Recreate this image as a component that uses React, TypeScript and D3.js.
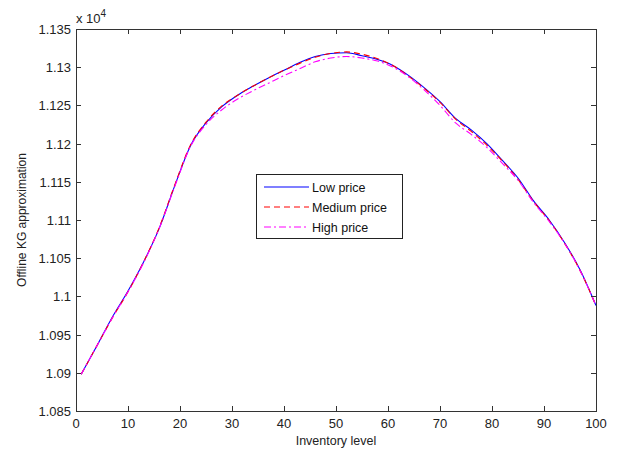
import React from "react";
import * as d3 from "d3";

// Inventory levels at which the approximation was sampled
const inventory = [1, 4, 7, 10, 13, 16, 19, 22, 25, 28, 31, 34, 37, 40, 43, 46, 49, 52, 55, 58, 61, 64, 67, 70, 73, 76, 79, 82, 85, 88, 91, 94, 97, 100];

// Offline KG approximation values (raw units, axis shows ×10^4)
const lowPrice = [10898, 10935, 10973, 11007, 11045, 11089, 11145, 11197, 11227, 11248, 11263, 11275, 11286, 11296, 11306, 11314, 11318, 11319, 11315, 11310, 11302, 11289, 11273, 11255, 11233, 11218, 11200, 11178, 11155, 11125, 11100, 11070, 11034, 10988];
const mediumPrice = [10898, 10935, 10972, 11006, 11045, 11090, 11146, 11198, 11228, 11249, 11263, 11275, 11286, 11296, 11305, 11313, 11318, 11320, 11317, 11311, 11302, 11288, 11272, 11254, 11232, 11216, 11198, 11177, 11153, 11124, 11099, 11069, 11033, 10988];
const highPrice = [10898, 10935, 10972, 11006, 11044, 11089, 11144, 11196, 11225, 11244, 11258, 11269, 11279, 11289, 11298, 11307, 11312, 11314, 11312, 11308, 11300, 11287, 11270, 11250, 11227, 11212, 11195, 11174, 11152, 11123, 11098, 11069, 11033, 10988];

const seriesNames = ["Low price", "Medium price", "High price"];
const xTicks = [0, 10, 20, 30, 40, 50, 60, 70, 80, 90, 100];
const yTicks = [10850, 10900, 10950, 11000, 11050, 11100, 11150, 11200, 11250, 11300, 11350];

const W = 619;
const H = 454;
const margin = { left: 76, right: 23, top: 29, bottom: 43 };
const FONT = "'Liberation Sans', Arial, sans-serif";

export default function App() {
  const x = d3.scaleLinear().domain([0, 100]).range([margin.left, W - margin.right]);
  const y = d3.scaleLinear().domain([10850, 11350]).range([H - margin.bottom, margin.top]);

  const series = [
    { name: seriesNames[0], values: lowPrice, color: "#0000ff", dash: undefined as string | undefined },
    { name: seriesNames[1], values: mediumPrice, color: "#ff0000", dash: "6,4" },
    { name: seriesNames[2], values: highPrice, color: "#ff00ff", dash: "7,3,2,3" },
  ];

  const line = d3
    .line<number>()
    .x((_, i) => x(inventory[i]))
    .y((d) => y(d))
    .curve(d3.curveMonotoneX);

  const x0 = x(0);
  const x1 = x(100);
  const y0 = y(10850);
  const y1 = y(11350);
  const tickLen = 5;
  const axisColor = "#333";
  const fmt = (v: number) => d3.format(".4~f")(v / 1e4);

  const legend = { x: 256.5, y: 174.5, w: 146, h: 64 };
  const rowY = [187, 207, 227];

  return (
    <svg
      width={W}
      height={H}
      style={{ position: "absolute", left: 0, top: 0, background: "#fff" }}
      fontFamily={FONT}
    >
      <rect x={0} y={0} width={W} height={H} fill="#fff" />

      {/* data lines */}
      <g fill="none" strokeWidth={1.1}>
        {series.map((s) => (
          <path key={s.name} d={line(s.values) || ""} stroke={s.color} strokeDasharray={s.dash} />
        ))}
      </g>

      {/* axes box */}
      <rect x={x0 + 0.5} y={y1 + 0.5} width={x1 - x0} height={y0 - y1} fill="none" stroke={axisColor} strokeWidth={1} />

      {/* x ticks */}
      <g stroke={axisColor} strokeWidth={1}>
        {xTicks.map((t) => (
          <g key={"xt" + t}>
            <line x1={Math.round(x(t)) + 0.5} x2={Math.round(x(t)) + 0.5} y1={y0} y2={y0 - tickLen} />
            <line x1={Math.round(x(t)) + 0.5} x2={Math.round(x(t)) + 0.5} y1={y1} y2={y1 + tickLen} />
          </g>
        ))}
        {yTicks.map((t) => (
          <g key={"yt" + t}>
            <line x1={x0} x2={x0 + tickLen} y1={Math.round(y(t)) + 0.5} y2={Math.round(y(t)) + 0.5} />
            <line x1={x1} x2={x1 - tickLen} y1={Math.round(y(t)) + 0.5} y2={Math.round(y(t)) + 0.5} />
          </g>
        ))}
      </g>

      {/* tick labels */}
      <g fontSize={13} fill="#222">
        {xTicks.map((t) => (
          <text key={"xl" + t} x={x(t)} y={428} textAnchor="middle">
            {t}
          </text>
        ))}
        {yTicks.map((t) => (
          <text key={"yl" + t} x={71} y={y(t) + 5} textAnchor="end">
            {fmt(t)}
          </text>
        ))}
      </g>

      {/* exponent */}
      <text x={76} y={23} fontSize={13} fill="#222">
        x 10
        <tspan dy={-6} fontSize={10}>4</tspan>
      </text>

      {/* axis labels */}
      <text x={(x0 + x1) / 2} y={445} textAnchor="middle" fontSize={12.5} fill="#222">
        Inventory level
      </text>
      <text
        transform={`translate(26,${(y0 + y1) / 2}) rotate(-90)`}
        textAnchor="middle"
        fontSize={12}
        fill="#222"
      >
        Offline KG approximation
      </text>

      {/* legend */}
      <g>
        <rect x={legend.x} y={legend.y} width={legend.w} height={legend.h} fill="#fff" stroke="#222" strokeWidth={1} />
        {series.map((s, i) => (
          <g key={"lg" + s.name}>
            <line x1={264} x2={309} y1={rowY[i]} y2={rowY[i]} stroke={s.color} strokeWidth={1.1} strokeDasharray={s.dash} />
            <text x={312} y={rowY[i] + 4.5} fontSize={12.5} fill="#111">
              {s.name}
            </text>
          </g>
        ))}
      </g>
    </svg>
  );
}
